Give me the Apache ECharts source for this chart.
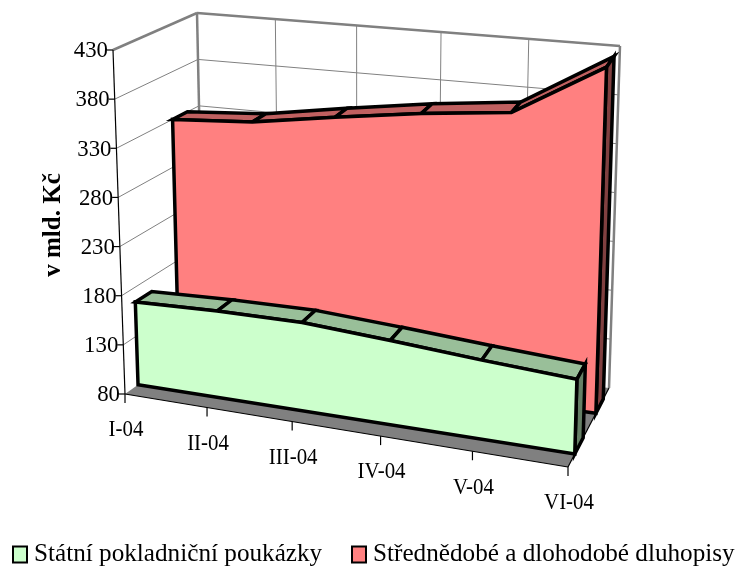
<!DOCTYPE html>
<html>
<head>
<meta charset="utf-8">
<style>
  html, body { margin: 0; padding: 0; background: #fff; }
  #chart { width: 736px; height: 571px; }
</style>
<script src="https://cdn.jsdelivr.net/npm/echarts@6/dist/echarts.min.js"></script>
</head>
<body>
<div id="chart"></div>
<script>
const categories = ['I-04', 'II-04', 'III-04', 'IV-04', 'V-04', 'VI-04']
const yTicks = [80, 130, 180, 230, 280, 330, 380, 430]
const pokladnicni = [165, 168, 169, 164, 158, 153]
const dluhopisy = [330, 336, 350, 363, 373, 428]

const nameGreen = 'Státní pokladniční poukázky'
const nameRed = 'Střednědobé a dlohodobé dluhopisy'
const serif = '"Liberation Serif", "Times New Roman", serif'

// corners of the 3D box on screen, [x, y]; first letter front/back, then bottom/top, then left/right
const box = {
  fbl: [125, 394], fbr: [568, 467], bbl: [204, 338], bbr: [609, 388],
  ftl: [113, 50], ftr: [578, 106], btl: [197, 13], btr: [620, 46]
}

const lerp = (a, b, k) => [a[0] + (b[0] - a[0]) * k, a[1] + (b[1] - a[1]) * k]

// the flat grid of ECharts gives the scales, this bends its result into the box
function project(api, sys, cat, val, depth) {
  const p = api.coord([cat, val])
  const u = (p[0] - sys.x) / sys.width
  const v = (sys.y + sys.height - p[1]) / sys.height
  const t = u / (u + 1.1 * (1 - u))
  const bottom = lerp(lerp(box.fbl, box.fbr, t), lerp(box.bbl, box.bbr, t), depth)
  const top = lerp(lerp(box.ftl, box.ftr, t), lerp(box.btl, box.btr, t), depth)
  return lerp(bottom, top, v)
}

const line = (a, b, stroke, lineWidth) => ({
  type: 'line',
  shape: { x1: a[0], y1: a[1], x2: b[0], y2: b[1] },
  style: { stroke, lineWidth, fill: null }
})

const poly = (points, fill) => ({
  type: 'polygon',
  shape: { points },
  style: { fill, stroke: '#000', lineWidth: 3.5, lineJoin: 'miter' }
})

const label = (text, x, y, align, verticalAlign, scaleX) => ({
  type: 'text',
  x, y,
  scaleX,
  style: { text, fontFamily: serif, fontSize: 24, fill: '#000', align, verticalAlign }
})

function renderFrame(params, api) {
  const sys = params.coordSys
  const minY = yTicks[0]
  const maxY = yTicks[yTicks.length - 1]
  const last = categories.length - 1
  const at = (c, v, d) => project(api, sys, c, v, d)
  const children = []

  children.push({
    type: 'polygon',
    shape: { points: [at(0, minY, 0), at(last, minY, 0), at(last, minY, 1), at(0, minY, 1)] },
    style: { fill: '#808080' }
  })

  yTicks.slice(1).forEach(v => {
    children.push(line(at(0, v, 0), at(0, v, 1), '#808080', 1))
    children.push(line(at(0, v, 1), at(last, v, 1), '#808080', 1))
  })
  categories.slice(1, -1).forEach((c, i) => {
    children.push(line(at(i + 1, minY, 1), at(i + 1, maxY, 1), '#808080', 1))
  })

  // heavy wall edges
  children.push(line(at(0, maxY, 0), at(0, maxY, 1), '#808080', 2.5))
  children.push(line(at(0, maxY, 1), at(last, maxY, 1), '#808080', 2.5))
  children.push(line(at(0, maxY, 1), at(0, minY, 1), '#808080', 2.5))
  children.push(line(at(last, maxY, 1), at(last, minY, 1), '#808080', 2.5))

  // axes
  children.push(line(at(0, minY, 0), at(0, maxY, 0), '#000', 1.2))
  children.push(line(at(0, minY, 0), at(last, minY, 0), '#000', 1.2))
  children.push(line(at(last, minY, 0), at(last, minY, 1), '#000', 1.2))

  yTicks.forEach(v => {
    const p = at(0, v, 0)
    children.push(line([p[0] - 6, p[1]], p, '#000', 1.2))
    children.push(label(String(v), p[0] - 5, p[1] + 1, 'right', 'middle', 0.95))
  })
  categories.forEach((c, i) => {
    const p = at(i, minY, 0)
    children.push(line(p, [p[0], p[1] + 9], '#000', 1.2))
    children.push(label(c, p[0] + 1, p[1] + 24, 'center', 'top', 0.87))
  })
  return { type: 'group', children }
}

// one area ribbon: top segments first, the front and right faces with the last point
function ribbon(values, depthFront, depthBack, fill, fillTop, fillSide) {
  return (params, api) => {
    const sys = params.coordSys
    const i = params.dataIndex
    const base = yTicks[0]
    const children = []
    const last = values.length - 1
    if (i < last) {
      children.push(poly([
        project(api, sys, i, values[i], depthFront),
        project(api, sys, i + 1, values[i + 1], depthFront),
        project(api, sys, i + 1, values[i + 1], depthBack),
        project(api, sys, i, values[i], depthBack)
      ], fillTop))
    } else {
      children.push(poly([
        project(api, sys, last, values[last], depthFront),
        project(api, sys, last, values[last], depthBack),
        project(api, sys, last, base, depthBack),
        project(api, sys, last, base, depthFront)
      ], fillSide))
      const front = values.map((v, k) => project(api, sys, k, v, depthFront))
      front.push(project(api, sys, last, base, depthFront))
      front.push(project(api, sys, 0, base, depthFront))
      children.push(poly(front, fill))
    }
    return { type: 'group', children }
  }
}

const legendItem = (name, left) => ({
  data: [name],
  left,
  top: 542,
  padding: 0,
  icon: 'rect',
  itemWidth: 14,
  itemHeight: 16,
  textStyle: { fontFamily: serif, fontSize: 25.2, color: '#000', padding: [0, 0, 0, 2] }
})

const chart = echarts.init(document.getElementById('chart'))
chart.setOption({
  animation: false,
  grid: { left: 100, top: 50, width: 400, height: 300 },
  xAxis: { type: 'category', data: categories, boundaryGap: false, show: false },
  yAxis: { type: 'value', min: 80, max: 430, interval: 50, show: false },
  legend: [legendItem(nameGreen, 12), legendItem(nameRed, 351)],
  graphic: [{
    type: 'text',
    x: 54,
    y: 225,
    rotation: Math.PI / 2,
    style: {
      text: 'v mld. Kč',
      fontFamily: serif,
      fontWeight: 'bold',
      fontSize: 25,
      fill: '#000',
      align: 'center',
      verticalAlign: 'middle'
    }
  }],
  series: [
    {
      type: 'custom',
      name: 'frame',
      silent: true,
      data: [[0, 80]],
      renderItem: renderFrame
    },
    {
      type: 'custom',
      name: nameRed,
      silent: true,
      data: dluhopisy.map((v, i) => [i, v]),
      itemStyle: { color: '#FF8080', borderColor: '#000', borderWidth: 3 },
      renderItem: ribbon(dluhopisy, 0.68, 0.86, '#FF8080', '#C06060', '#804040')
    },
    {
      type: 'custom',
      name: nameGreen,
      silent: true,
      data: pokladnicni.map((v, i) => [i, v]),
      itemStyle: { color: '#CCFFCC', borderColor: '#000', borderWidth: 3 },
      renderItem: ribbon(pokladnicni, 0.165, 0.37, '#CCFFCC', '#99BF99', '#668066')
    }
  ]
})
</script>
</body>
</html>
